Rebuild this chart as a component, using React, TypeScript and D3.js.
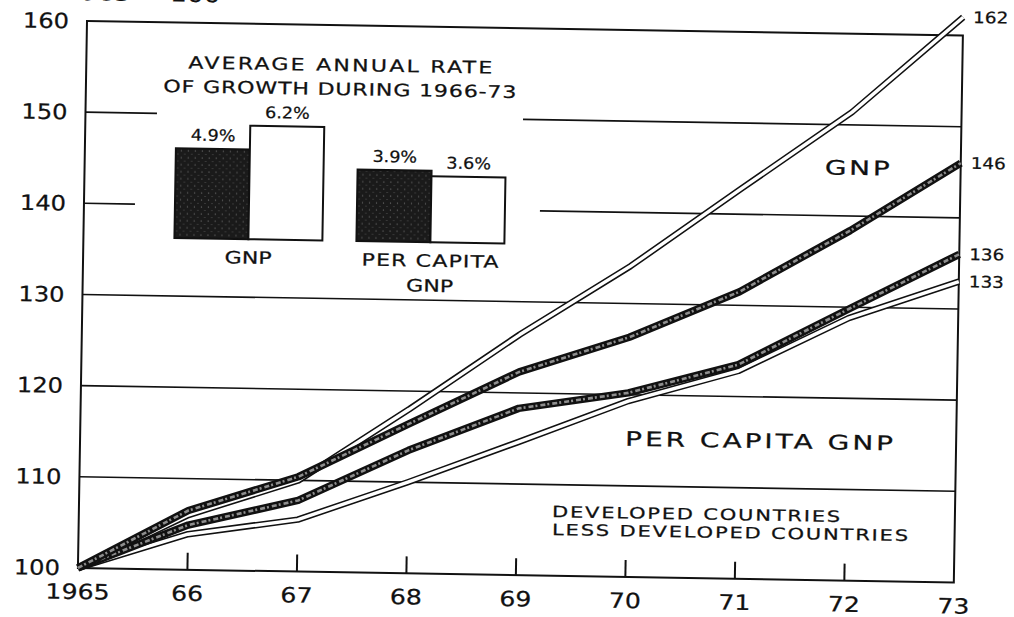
import * as d3 from "d3";
import { useEffect, useRef } from "react";

// index values, 1965 = 100
const years = [1965, 1966, 1967, 1968, 1969, 1970, 1971, 1972, 1973];
const yearLabels = ["1965", "66", "67", "68", "69", "70", "71", "72", "73"];
const devGnp = [100, 106.5, 110.4, 116.4, 122.3, 126.3, 131.5, 138.4, 146];
const ldcGnp = [100, 106.0, 110.0, 118.0, 126.4, 134.1, 142.8, 151.4, 162];
const devPerCapita = [100, 104.9, 107.8, 113.5, 118.3, 120.2, 123.5, 129.8, 136];
const ldcPerCapita = [100, 103.9, 105.7, 110.0, 114.6, 119.3, 122.8, 128.8, 133];
const yTicks = [100, 110, 120, 130, 140, 150, 160];

// inset: average annual rate of growth 1966-73 (%)
const barGroups = ["GNP", "PER CAPITA GNP"];
const barGroupLines = [["GNP"], ["PER CAPITA", "GNP"]];
const barDeveloped = [4.9, 3.9];
const barLessDeveloped = [6.2, 3.6];

const FONT = "'DejaVu Sans', sans-serif";

const App = () => {
  const ref = useRef<SVGSVGElement>(null);

  useEffect(() => {
    const svg = d3.select(ref.current);
    svg.selectAll("*").remove();

    const left = 87, right = 963, top = 21, bottom = 568;

    // the scan is tilted a little, so the whole drawing is turned with it
    const g = svg.append("g").attr("transform", `rotate(0.95 ${left} ${top})`);

    const x = d3.scaleLinear().domain([1965, 1973]).range([left, right]);
    const y = d3.scaleLinear().domain([100, 160]).range([bottom, top]);

    // the scanned lettering is wider than DejaVu, so glyphs get stretched
    const label = (
      px: number, py: number, str: string, size: number,
      anchor = "middle", width?: number, sx = 1.3
    ) => {
      const t = g.append("text")
        .attr("transform", `translate(${px},${py}) scale(${sx},1)`)
        .attr("font-family", FONT)
        .attr("font-size", size)
        .attr("text-anchor", anchor)
        .attr("fill", "#111")
        .attr("stroke", "#111")
        .attr("stroke-width", 0.25)
        .text(str);
      if (width) t.attr("textLength", width / sx).attr("lengthAdjust", "spacing");
      return t;
    };

    // stipple for the dark bars
    const defs = svg.append("defs");
    const pat = defs.append("pattern").attr("id", "stip")
      .attr("width", 7).attr("height", 7).attr("patternUnits", "userSpaceOnUse");
    pat.append("rect").attr("width", 7).attr("height", 7).attr("fill", "#1a1a1a");
    pat.append("circle").attr("cx", 1.5).attr("cy", 2).attr("r", 0.6).attr("fill", "#8a8a8a");
    pat.append("circle").attr("cx", 5).attr("cy", 5.5).attr("r", 0.5).attr("fill", "#6a6a6a");

    // grid lines, some broken around the inset
    const gaps: Record<number, [number, number][]> = {
      150: [[left, 158.5], [524.6, right]],
      140: [[left, 138], [543, right]],
    };
    yTicks.filter((t) => t > 100 && t < 160).forEach((t) => {
      (gaps[t] || [[left, right]]).forEach(([a, b]) => {
        g.append("line")
          .attr("x1", a).attr("x2", b)
          .attr("y1", y(t)).attr("y2", y(t))
          .attr("stroke", "#111").attr("stroke-width", 1.6);
      });
    });

    // frame
    g.append("rect")
      .attr("x", left).attr("y", top)
      .attr("width", right - left).attr("height", bottom - top)
      .attr("fill", "none").attr("stroke", "#111").attr("stroke-width", 2);

    // x ticks
    years.slice(1, -1).forEach((yr) => {
      g.append("line")
        .attr("x1", x(yr)).attr("x2", x(yr))
        .attr("y1", bottom).attr("y2", bottom - 17)
        .attr("stroke", "#111").attr("stroke-width", 2);
    });

    // axis labels
    yTicks.forEach((t) => label(69, y(t) + 7.5, String(t), 21, "end", undefined, 1.15));
    years.forEach((yr, i) => label(x(yr), 599, yearLabels[i], 21, "middle", undefined, 1.2));
    label(220, 0, "1965 = 100", 22, "end", undefined, 1.2);

    // lines
    const line = d3.line<number>()
      .x((_, i) => x(years[i]))
      .y((d) => y(d));

    [ldcPerCapita, ldcGnp].forEach((s) => {
      g.append("path").attr("d", line(s)).attr("fill", "none")
        .attr("stroke", "#111").attr("stroke-width", 6.5).attr("stroke-linejoin", "round");
      g.append("path").attr("d", line(s)).attr("fill", "none")
        .attr("stroke", "#fff").attr("stroke-width", 3.4).attr("stroke-linejoin", "round");
    });
    [devPerCapita, devGnp].forEach((s) => {
      g.append("path").attr("d", line(s)).attr("fill", "none")
        .attr("stroke", "#111").attr("stroke-width", 7.5).attr("stroke-linejoin", "round");
      g.append("path").attr("d", line(s)).attr("fill", "none")
        .attr("stroke", "#8e8e8e").attr("stroke-width", 2.6)
        .attr("stroke-dasharray", "5 2 2 3").attr("stroke-linejoin", "round");
    });

    // end values
    [ldcGnp, devGnp, devPerCapita, ldcPerCapita].forEach((s) => {
      const v = s[s.length - 1];
      label(973, y(v) + 5.5, String(v), 16, "start", undefined, 1.15);
    });

    // series labels and legend text
    label(859.6, 162.2, "GNP", 20, "middle", 65, 1.4);
    label(766, 436.8, "PER CAPITA GNP", 20, "middle", 268, 1.4);
    label(560.2, 509.3, "DEVELOPED COUNTRIES", 15.5, "start", 288, 1.35);
    label(560.5, 527.3, "LESS DEVELOPED COUNTRIES", 15.5, "start", 356, 1.35);

    // inset bar chart
    label(341, 66.8, "AVERAGE ANNUAL RATE", 17, "middle", 304);
    label(341, 90.8, "OF GROWTH DURING 1966-73", 17, "middle", 353);

    const base = 236.5;
    const gx = d3.scaleBand().domain(barGroups).range([178, 508]).paddingInner(0.187);
    const sub = d3.scaleBand().domain(["dev", "ldc"]).range([0, gx.bandwidth()]);
    const by = d3.scaleLinear().domain([0, 6.2]).range([base, base - 113.5]);

    barGroups.forEach((grp, i) => {
      const gx0 = gx(grp) as number;
      const vals: [string, number][] = [["dev", barDeveloped[i]], ["ldc", barLessDeveloped[i]]];
      vals.forEach(([k, v]) => {
        const bx = gx0 + (sub(k) as number);
        g.append("rect")
          .attr("x", bx).attr("y", by(v))
          .attr("width", sub.bandwidth()).attr("height", base - by(v))
          .attr("fill", k === "dev" ? "url(#stip)" : "#fff")
          .attr("stroke", "#111").attr("stroke-width", 2);
        label(bx + sub.bandwidth() / 2, by(v) - 8, `${v.toFixed(1)}%`, 16, "middle", undefined, 1.1);
      });
      barGroupLines[i].forEach((ln, j) => {
        label(gx0 + gx.bandwidth() / 2, base + 24.5 + j * 25, ln, 17, "middle",
          ln === "GNP" ? undefined : 137, ln === "GNP" ? 1.3 : 1.3);
      });
    });
  }, []);

  return (
    <svg
      ref={ref}
      width={1014}
      height={617}
      style={{ position: "absolute", left: 0, top: 0, background: "#fff" }}
    />
  );
};

export default App;
